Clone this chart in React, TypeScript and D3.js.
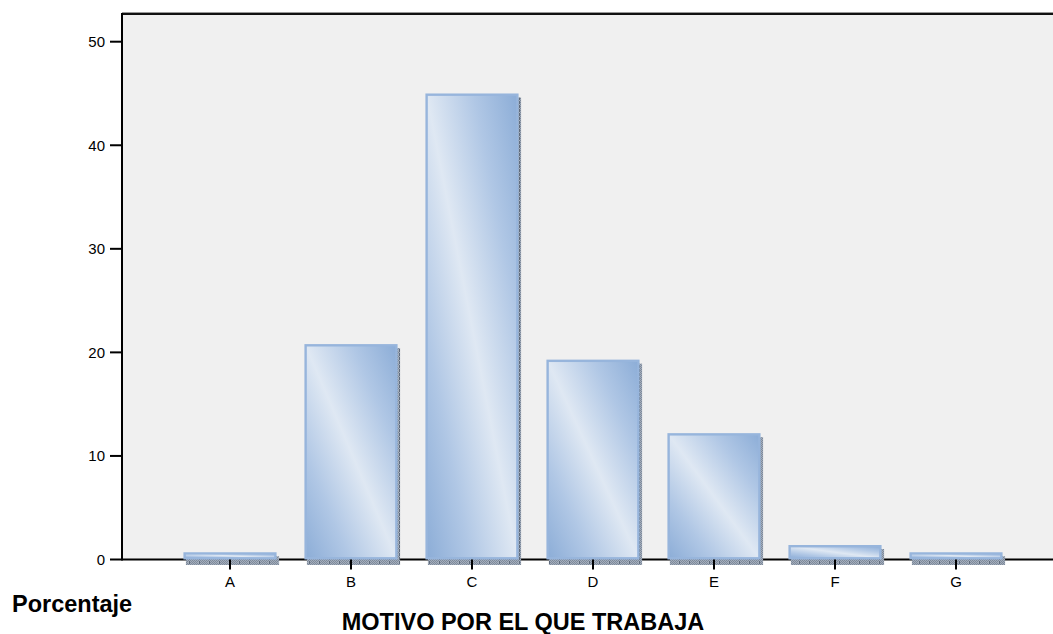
import React from "react";
import * as d3 from "d3";

// Percentage of respondents by reason for working
const categories = ["A", "B", "C", "D", "E", "F", "G"];
const percentages = [0.7, 20.8, 45.0, 19.3, 12.2, 1.4, 0.7];
const yTicks = [0, 10, 20, 30, 40, 50];
const yAxisTitle = "Porcentaje";
const xAxisTitle = "MOTIVO POR EL QUE TRABAJA";

const W = 1053;
const H = 634;
const plotLeft = 122;
const plotTop = 14;
const plotRight = 1060;
const baseY = 559.5;
const FONT = "'Liberation Sans', Arial, Helvetica, sans-serif";

export default function App() {
  const y = d3.scaleLinear().domain([0, 50]).range([baseY, 41.7]);
  const x = d3.scalePoint<string>().domain(categories).range([169.5, 1016.5]).padding(0.5);
  const step = x.step();
  const barW = step * 0.77;

  return (
    <svg
      width={W}
      height={H}
      style={{ position: "absolute", left: 0, top: 0, background: "#fff" }}
      fontFamily={FONT}
    >
      <defs>
        <linearGradient id="barGrad" x1="1" y1="0" x2="0" y2="1">
          <stop offset="0" stopColor="#8cadd7" />
          <stop offset="0.24" stopColor="#b0c7e5" />
          <stop offset="0.5" stopColor="#dfe8f3" />
          <stop offset="0.76" stopColor="#b0c7e5" />
          <stop offset="1" stopColor="#8cadd7" />
        </linearGradient>
        <pattern id="shadowPat" width="10" height="4" patternUnits="userSpaceOnUse">
          <rect width="10" height="4" fill="#a3adbb" />
          <rect x="0" y="0" width="1" height="1" fill="#7e8a9b" />
          <rect x="2" y="0" width="1" height="1" fill="#7e8a9b" />
          <rect x="4" y="0" width="1" height="1" fill="#7e8a9b" />
          <rect x="6" y="0" width="1" height="1" fill="#7e8a9b" />
          <rect x="8" y="0" width="1" height="1" fill="#7e8a9b" />
          <rect x="1" y="1" width="1" height="1" fill="#7e8a9b" />
          <rect x="3" y="1" width="1" height="1" fill="#7e8a9b" />
          <rect x="5" y="1" width="1" height="1" fill="#7e8a9b" />
          <rect x="7" y="1" width="1" height="1" fill="#7e8a9b" />
          <rect x="9" y="1" width="1" height="4" fill="#5f6b7c" />
          <rect x="0" y="2" width="1" height="1" fill="#7e8a9b" />
          <rect x="2" y="2" width="1" height="1" fill="#7e8a9b" />
          <rect x="4" y="2" width="1" height="1" fill="#7e8a9b" />
          <rect x="6" y="2" width="1" height="1" fill="#7e8a9b" />
          <rect x="1" y="3" width="1" height="1" fill="#7e8a9b" />
          <rect x="3" y="3" width="1" height="1" fill="#7e8a9b" />
          <rect x="5" y="3" width="1" height="1" fill="#7e8a9b" />
          <rect x="7" y="3" width="1" height="1" fill="#7e8a9b" />
        </pattern>
      </defs>

      {/* plot background */}
      <rect x={plotLeft} y={plotTop} width={plotRight - plotLeft} height={baseY - plotTop} fill="#f0f0f0" />
      <line x1={plotLeft} x2={plotRight} y1={plotTop} y2={plotTop} stroke="#111" strokeWidth={2} />
      <line x1={plotLeft} x2={plotRight} y1={plotTop - 1.5} y2={plotTop - 1.5} stroke="#999" strokeWidth={1} />

      {/* baseline */}
      <line x1={plotLeft} x2={plotRight} y1={baseY} y2={baseY} stroke="#000" strokeWidth={2} />

      {/* bars with drop shadow */}
      {categories.map((c, i) => {
        const cx = x(c) as number;
        const top = y(percentages[i]);
        const h = baseY - top;
        const bx = cx - barW / 2;
        return (
          <g key={c}>
            <rect x={bx + 2.5} y={top + 4} width={barW} height={h + 1.5} fill="url(#shadowPat)" />
            <rect
              x={bx + 1.2}
              y={top + 1.2}
              width={barW - 2.4}
              height={h - 2.4}
              fill="url(#barGrad)"
              stroke="#97b5dc"
              strokeWidth={2.4}
            />
          </g>
        );
      })}

      {/* left axis */}
      <line x1={plotLeft} x2={plotLeft} y1={plotTop - 1} y2={baseY + 1} stroke="#000" strokeWidth={2} />
      {yTicks.map((t) => (
        <g key={t}>
          <line x1={plotLeft - 12} x2={plotLeft} y1={y(t)} y2={y(t)} stroke="#000" strokeWidth={2} />
          <text x={plotLeft - 17} y={y(t)} dy="0.36em" textAnchor="end" fontSize={15} fill="#000">
            {t}
          </text>
        </g>
      ))}

      {/* category ticks and labels */}
      {categories.map((c) => (
        <g key={c}>
          <line x1={x(c) as number} x2={x(c) as number} y1={baseY} y2={baseY + 10} stroke="#000" strokeWidth={2} />
          <text x={x(c) as number} y={587} textAnchor="middle" fontSize={15} fill="#000">
            {c}
          </text>
        </g>
      ))}

      <text x={12} y={612} fontSize={23.5} fontWeight="bold" fill="#000">
        {yAxisTitle}
      </text>
      <text x={523} y={630} textAnchor="middle" fontSize={23.5} fontWeight="bold" fill="#000">
        {xAxisTitle}
      </text>
    </svg>
  );
}
